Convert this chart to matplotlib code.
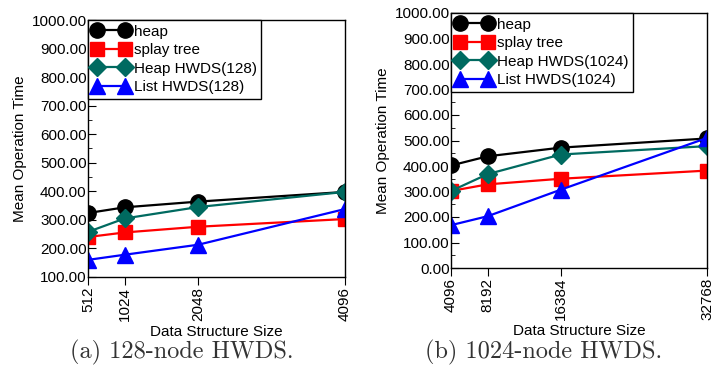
import matplotlib
matplotlib.use("Agg")
import matplotlib.pyplot as plt
from matplotlib.ticker import MultipleLocator, FormatStrFormatter

plt.rcParams.update({
    "font.family": ["Liberation Sans", "DejaVu Sans"],
    "font.size": 11,
    "axes.linewidth": 1.0,
})

# panel (a): 128-node HWDS
sizes_a = [512, 1024, 2048, 4096]
heap_a = [324, 344, 364, 398]
splay_a = [240, 256, 276, 303]
heap_hw_a = [258, 305, 345, 398]
list_hw_a = [160, 178, 213, 338]

# panel (b): 1024-node HWDS
sizes_b = [4096, 8192, 16384, 32768]
heap_b = [402, 438, 472, 508]
splay_b = [302, 328, 350, 382]
heap_hw_b = [302, 368, 445, 478]
list_hw_b = [168, 203, 307, 510]

styles = [
    ("heap", "black", "o", 11),
    ("splay tree", "#ff0000", "s", 10),
    ("Heap HWDS", "#006a60", "D", 9),
    ("List HWDS", "#0000ff", "^", 11),
]

W, H = 711, 369
fig = plt.figure(figsize=(W / 100, H / 100), dpi=100)


def panel(rect, sizes, series, node, ymin):
    ax = fig.add_axes(rect)
    for (name, color, marker, ms), vals in zip(styles, series):
        label = name if "HWDS" not in name else f"{name}({node})"
        ax.plot(sizes, vals, color=color, marker=marker, markersize=ms,
                linewidth=1.6, markeredgecolor=color, label=label)
    ax.set_xlim(sizes[0], sizes[-1])
    ax.set_ylim(ymin, 1000)
    ax.set_xticks(sizes)
    ax.set_xticklabels([str(s) for s in sizes], rotation=90)
    ax.yaxis.set_major_locator(MultipleLocator(100))
    ax.yaxis.set_minor_locator(MultipleLocator(50))
    ax.yaxis.set_major_formatter(FormatStrFormatter("%.2f"))
    ax.tick_params(axis="y", which="both", direction="in", right=False, pad=1)
    ax.tick_params(axis="y", which="major", length=6)
    ax.tick_params(axis="y", which="minor", length=3)
    ax.tick_params(axis="x", direction="out", length=6, pad=1)
    ax.set_xlabel("Data Structure Size", labelpad=3)
    ax.set_ylabel("Mean Operation Time", labelpad=3)
    ax.legend(loc="upper left", numpoints=2, handlelength=2.4, fancybox=False,
              framealpha=1, edgecolor="black", borderaxespad=0, borderpad=0.3,
              labelspacing=0.3, handletextpad=0.3, fontsize=11)
    return ax


panel([88 / W, 1 - 277 / H, 257 / W, 257 / H], sizes_a,
      [heap_a, splay_a, heap_hw_a, list_hw_a], 128, 100)
panel([451 / W, 1 - 268 / H, 256 / W, 255 / H], sizes_b,
      [heap_b, splay_b, heap_hw_b, list_hw_b], 1024, 0)

cap = dict(family=["cmr10", "DejaVu Serif"], fontsize=17.5, color="#333333",
           ha="center", va="center")
fig.text(182 / W, 1 - 352 / H, "(a) 128-node HWDS.", **cap)
fig.text(544 / W, 1 - 352 / H, "(b) 1024-node HWDS.", **cap)

fig.savefig("out.png", dpi=100)
